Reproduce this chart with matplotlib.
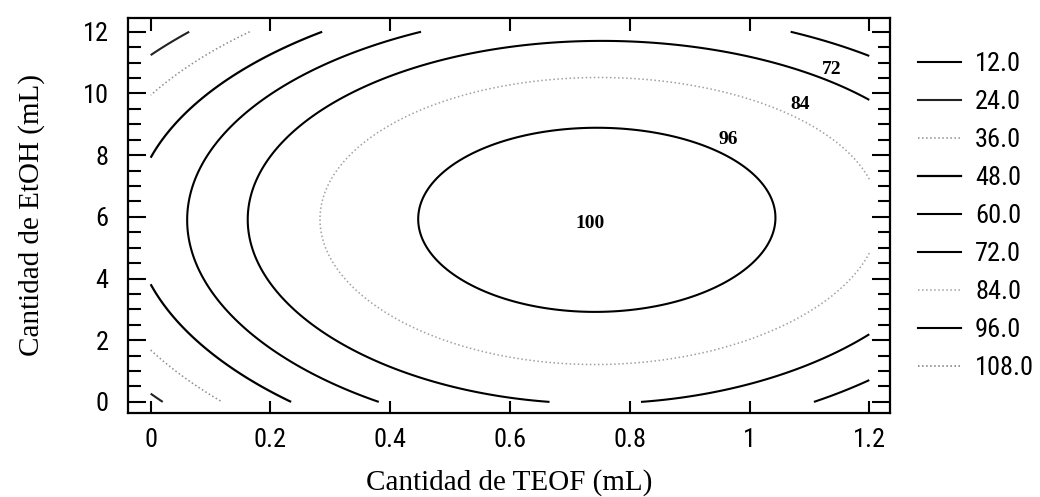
import numpy as np
import matplotlib
matplotlib.use("Agg")
import matplotlib.pyplot as plt
from matplotlib.lines import Line2D

# points traced along each contour line of the reference (TEOF mL, EtOH mL)
trace_x = [0.461, 1.040, 0.800, 0.717, 0.968, 1.018, 1.018, 0.528, 0.617, 0.470, 0.617, 0.578, 0.812, 0.884,
           0.288, 0.304, 0.361, 0.617, 0.802, 1.085, 1.198, 1.193, 0.383, 0.550, 0.717, 0.812, 0.996, 1.135, 0.471,
           0.160, 0.194, 0.304, 0.471, 0.617, 0.802, 1.006, 1.138, 1.197, 0.170, 0.249, 0.416, 0.612, 0.876, 1.051, 1.198,
           0.062, 0.070, 0.104, 0.194, 0.304, 0.461, 1.030, 1.197, 0.065, 0.137, 0.249, 0.366, 1.131, 1.198,
           0.000, 0.082, 0.194, 0.288, 0.000, 0.082, 0.229,
           0.000, 0.162, 0.000, 0.115,
           0.000, 0.057, 0.000, 0.018]
trace_y = [6.00, 6.07, 8.76, 2.89, 7.78, 6.97, 4.70, 7.75, 8.50, 4.93, 3.31, 3.08, 3.08, 3.31,
           6.00, 7.43, 9.15, 10.22, 10.44, 9.47, 6.97, 4.70, 3.08, 1.91, 1.20, 1.30, 2.01, 3.21, 1.91,
           6.00, 8.40, 9.90, 11.00, 11.50, 11.77, 11.19, 10.44, 9.80, 4.93, 2.76, 0.81, 0.16, 0.13, 0.81, 2.08,
           6.00, 6.97, 8.27, 9.80, 11.00, 12.07, 12.13, 11.16, 4.93, 2.76, 1.36, 0.06, 0.16, 0.78,
           7.78, 9.47, 10.87, 12.00, 3.63, 2.24, 0.06,
           9.96, 12.00, 1.52, 0.06,
           11.30, 12.00, 0.23, 0.06]
trace_z = [96] * 14 + [84] * 15 + [72] * 16 + [60] * 14 + [48] * 7 + [36] * 4 + [24] * 4

levels = [12, 24, 36, 48, 60, 72, 84, 96, 108]
level_colors = ["black", "#222222", "#8c8c8c", "black", "black", "black", "#a0a0a0", "black", "#777777"]
level_styles = ["-", "-", ":", "-", "-", "-", ":", "-", ":"]
level_widths = [1.5, 1.5, 1.1, 1.6, 1.5, 1.5, 1.1, 1.5, 1.1]

label_text = ["72", "84", "96", "100"]
label_x = [1.138, 1.085, 0.964, 0.734]
label_y = [10.77, 9.63, 8.50, 5.80]

xticks = [0, 0.2, 0.4, 0.6, 0.8, 1.0, 1.2]
xticklabels = ["0", "0.2", "0.4", "0.6", "0.8", "1", "1.2"]
yticks = [0, 2, 4, 6, 8, 10, 12]

# rebuild the response surface from the traced contours (4th order polynomial)
def basis(x, y):
    u = (np.asarray(x) - 0.6) / 0.6
    v = (np.asarray(y) - 6.0) / 6.0
    return np.stack([u**i * v**j for i in range(5) for j in range(5 - i)], axis=-1)

coef, *_ = np.linalg.lstsq(basis(trace_x, trace_y), np.array(trace_z, float), rcond=None)

gx, gy = np.meshgrid(np.linspace(0, 1.2, 241), np.linspace(0, 12, 241))
gz = basis(gx, gy) @ coef

sans = ["Roboto Condensed", "DejaVu Sans"]
serif = ["Liberation Serif", "DejaVu Serif"]

fig = plt.figure(figsize=(10.4, 4.97), dpi=100)
ax = fig.add_axes([0.123, 0.169, 0.733, 0.795])

ax.contour(gx, gy, gz, levels=levels, colors=level_colors,
           linestyles=level_styles, linewidths=level_widths)

for t, x, y in zip(label_text, label_x, label_y):
    ax.text(x, y, t, ha="center", va="center", fontsize=14, family=serif, fontweight="bold")

ax.set_xlim(-0.038, 1.235)
ax.set_ylim(-0.36, 12.45)
ax.set_xticks(xticks)
ax.set_xticklabels(xticklabels)
ax.set_yticks(yticks)
ax.set_yticks(np.arange(0, 12.5, 0.5), minor=True)
ax.tick_params(which="both", direction="in", top=True, right=True)
ax.tick_params(axis="x", which="major", length=9, width=1.5, pad=11)
ax.tick_params(axis="y", which="major", length=13, width=1.5, pad=14)
ax.tick_params(axis="y", which="minor", length=9, width=1.5)
for lab in ax.get_xticklabels() + ax.get_yticklabels():
    lab.set_family(sans)
    lab.set_stretch("condensed")
    lab.set_fontsize(19)
for s in ax.spines.values():
    s.set_linewidth(1.6)

ax.set_xlabel("Cantidad de TEOF (mL)", family=serif, fontsize=21, labelpad=12)
ax.set_ylabel("Cantidad de EtOH (mL)", family=serif, fontsize=21, labelpad=27)

handles = [Line2D([], [], color=c, ls=s, lw=w) for c, s, w in zip(level_colors, level_styles, level_widths)]
leg = fig.legend(handles, [f"{v:.1f}" for v in levels], loc="upper left",
                 bbox_to_anchor=(0.883, 0.895), frameon=False, borderpad=0, borderaxespad=0,
                 handlelength=1.6, handletextpad=0.55, labelspacing=0.53,
                 prop={"family": sans, "size": 19, "stretch": "condensed"})

fig.savefig("out.png", dpi=100)
